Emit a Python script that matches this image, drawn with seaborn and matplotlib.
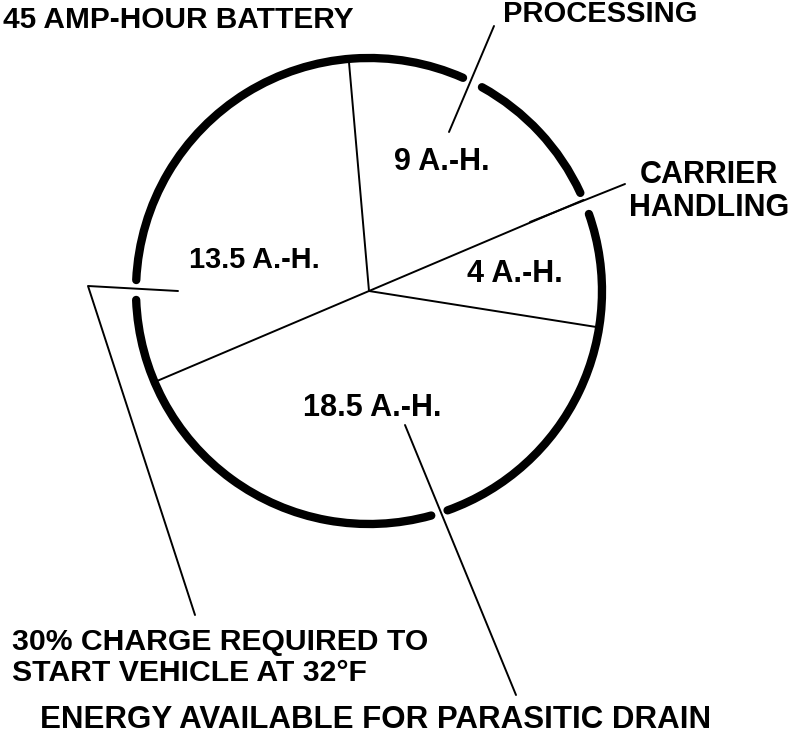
import matplotlib.pyplot as plt
import numpy as np
import seaborn as sns
from matplotlib.patches import Arc

# battery budget, amp-hours
categories = ["PROCESSING", "CARRIER HANDLING", "PARASITIC DRAIN", "START RESERVE"]
amp_hours = [9, 4, 18.5, 13.5]
slice_labels = ["9 A.-H.", "4 A.-H.", "18.5 A.-H.", "13.5 A.-H."]
title_text = "45 AMP-HOUR BATTERY"

H = 738


def P(x, y):
    # picture pixel -> data coords (y up)
    return x, H - y


def main():
    sns.set_theme(style="white")
    plt.rcParams['font.family'] = ['Liberation Sans', 'DejaVu Sans']

    fig = plt.figure(figsize=(8, 7.38), dpi=100)
    ax = fig.add_axes([0, 0, 1, 1])

    cx, cy = P(369, 291)
    r = 233
    wedges, _ = ax.pie(amp_hours, startangle=95, counterclock=False,
                       center=(cx, cy), radius=r, colors=["white"] * 4,
                       wedgeprops=dict(linewidth=0))

    # radial dividers
    for w in wedges:
        t = np.deg2rad(w.theta2)
        ax.plot([cx, cx + r * np.cos(t)], [cy, cy + r * np.sin(t)], color="black", lw=1.4)

    # thick rim, broken where leader lines cross
    gaps = [(-74.5, -70.3), (19.3, 24.9), (61.0, 66.2), (177.3, 182.2)]
    for i, (g0, g1) in enumerate(gaps):
        nxt = gaps[(i + 1) % len(gaps)][0]
        if nxt < g1:
            nxt += 360
        ax.add_patch(Arc((cx, cy), 2 * r, 2 * r, theta1=g1, theta2=nxt,
                         color="black", lw=6, capstyle="round"))

    # leader lines
    leaders = [
        [(494, 26), (449, 132)],
        [(625, 184), (530, 222)],
        [(178, 291), (88, 286), (195, 615)],
        [(405, 425), (516, 695)],
    ]
    for pts in leaders:
        xs, ys = zip(*[P(x, y) for x, y in pts])
        ax.plot(xs, ys, color="black", lw=1.4)

    kw = dict(fontweight="bold", color="black", va="baseline")
    ax.text(*P(3, 28), title_text, ha="left", fontsize=21.5, **kw)
    ax.text(*P(503, 22), "PROCESSING", ha="left", fontsize=21, **kw)
    ax.text(*P(709, 183), "CARRIER", ha="center", fontsize=22, **kw)
    ax.text(*P(709, 216), "HANDLING", ha="center", fontsize=22, **kw)

    label_pos = [(442, 170), (515, 282), (372, 416), (254, 268)]
    label_fs = [22, 22, 22, 20.8]
    for lab, (x, y), f in zip(slice_labels, label_pos, label_fs):
        ax.text(*P(x, y), lab, ha="center", fontsize=f, **kw)

    ax.text(*P(12, 650), "30% CHARGE REQUIRED TO", ha="left", fontsize=21.7, **kw)
    ax.text(*P(12, 681), "START VEHICLE AT 32°F", ha="left", fontsize=21.7, **kw)
    ax.text(*P(376, 728), "ENERGY AVAILABLE FOR PARASITIC DRAIN",
            ha="center", fontsize=22.5, **kw)

    ax.set_xlim(0, 800)
    ax.set_ylim(0, H)
    ax.set_aspect("equal")
    ax.axis("off")
    fig.savefig("out.png", dpi=100, facecolor="white")


if __name__ == "__main__":
    main()
